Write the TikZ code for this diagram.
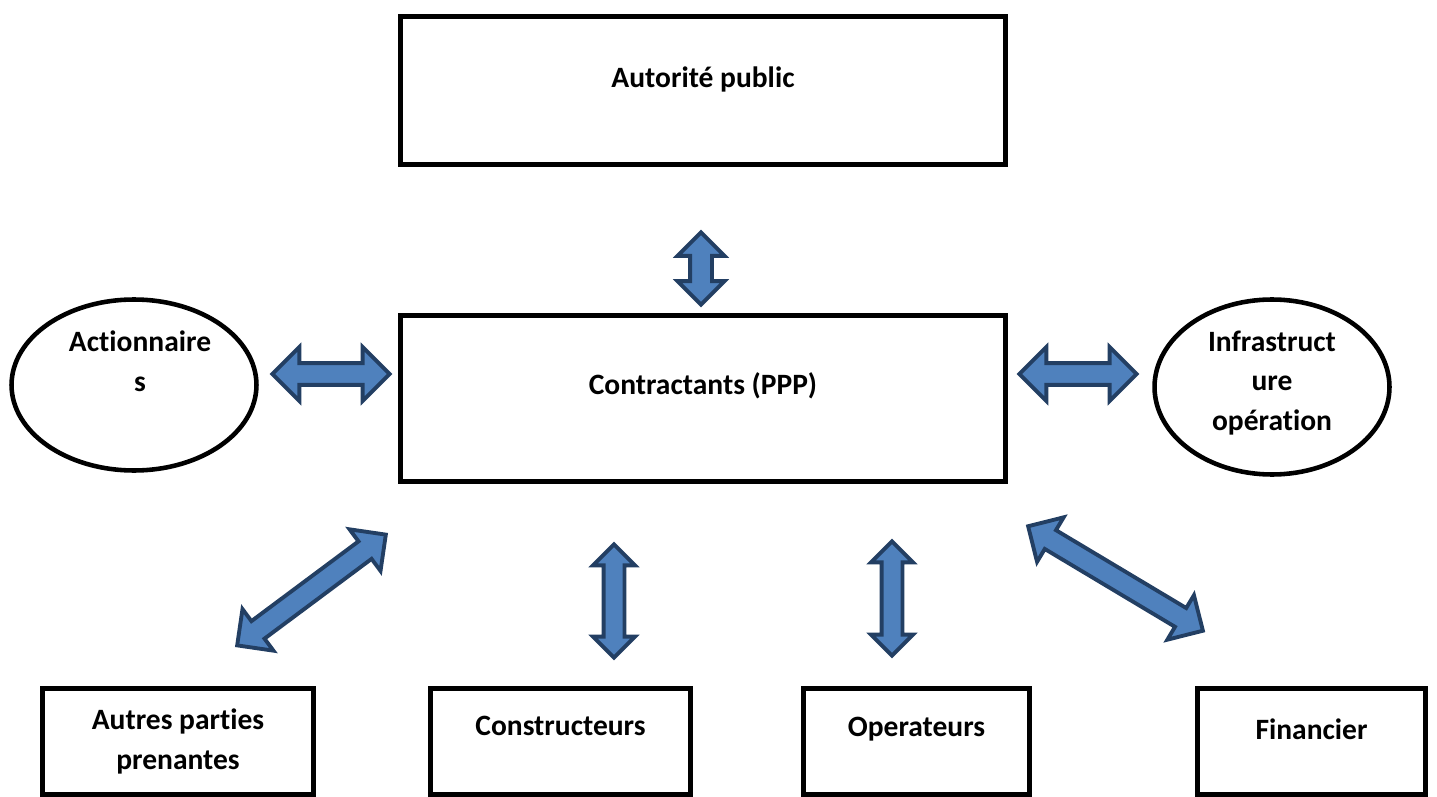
\documentclass[tikz,border=0pt]{standalone}
\usepackage{fontspec}
\setmainfont[Ligatures=NoCommon]{Carlito}
\usetikzlibrary{calc,positioning,shapes.geometric,shapes.arrows}
\definecolor{arrowfill}{HTML}{4F81BD}
\definecolor{arrowline}{HTML}{233F63}
\tikzset{
    box/.style={draw, line width=2.8pt, inner sep=0pt, outer sep=0pt},
    bubble/.style={draw, ellipse, line width=2.6pt, inner sep=0pt, outer sep=0pt},
    txt/.style={font=\fontsize{16.8}{22.7}\selectfont\bfseries, align=center, inner sep=0pt},
    dblarrow/.style={double arrow, draw=arrowline, fill=arrowfill, line width=2.2pt,
        inner xsep=0pt, text height=0pt, text depth=0pt, outer sep=0pt, minimum width=0pt},
    arrowsize/.style 2 args={inner ysep=#1, double arrow head extend=#2},
}
% block double arrow between two named points
\newcommand{\dblink}[3][]{%
    \path let \p1=($(#3)-(#2)$), \n1={atan2(\y1,\x1)}, \n2={veclen(\x1,\y1)} in
        node[dblarrow, #1, rotate=\n1, minimum height={\n2-2.8pt}] at ($(#2)!0.5!(#3)$) {};}

\begin{document}
\begin{tikzpicture}[x=0.02cm, y=-0.02cm]
        \useasboundingbox (0,0) rectangle (1437,797);
        % main boxes
        \node[box, minimum width=12.1cm, minimum height=2.96cm,
            label={[txt, yshift=0.23cm]center:Autorité public}] (pub) at (703,90.5) {};
        \node[box, minimum width=12.1cm, minimum height=3.32cm,
            label={[txt, yshift=0.25cm]center:Contractants (PPP)}] (ppp) at (703,398.5) {};
        % side ellipses
        \node[bubble, minimum width=4.9cm, minimum height=3.42cm,
            label={[txt, xshift=0.12cm, yshift=0.48cm]center:Actionnaire\\s}] (act) at (134,385) {};
        \node[bubble, minimum width=4.7cm, minimum height=3.5cm,
            label={[txt, yshift=0.08cm]center:Infrastruct\\ure\\opération}] (infra) at (1272,387) {};
        % bottom boxes
        \node[box, minimum width=5.42cm, minimum height=2.12cm,
            label={[txt]center:Autres parties\\prenantes}] (aut) at (178,741.5) {};
        \node[box, minimum width=5.2cm, minimum height=2.12cm,
            label={[txt, yshift=0.31cm]center:Constructeurs}] (con) at (560.5,741.5) {};
        \node[box, minimum width=4.52cm, minimum height=2.12cm,
            label={[txt, yshift=0.25cm]center:Operateurs}] (ope) at (916.5,741.5) {};
        \node[box, minimum width=4.56cm, minimum height=2.12cm,
            label={[txt, yshift=0.25cm]center:Financier}] (fin) at (1311.5,741.5) {};

        % arrow tips
        \coordinate (pubA) at (701,230);   \coordinate (pubB) at (701,307);
        \coordinate (actA) at (270,374);   \coordinate (actB) at (392,374);
        \coordinate (infA) at (1017,374);  \coordinate (infB) at (1139,374);
        \coordinate (autA) at (235,647);   \coordinate (autB) at (388,533);
        \coordinate (conA) at (614,542);   \coordinate (conB) at (614,660);
        \coordinate (opeA) at (892,539);   \coordinate (opeB) at (892,658);
        \coordinate (finA) at (1026,525);  \coordinate (finB) at (1205,632);

        % block arrows
        \dblink[arrowsize={0.18cm}{0.25cm}]{pubA}{pubB}
        \foreach \a in {act,inf} {
            \dblink[arrowsize={0.18cm}{0.32cm}]{\a A}{\a B}
        }
        \foreach \a in {con,ope} {
            \dblink[arrowsize={0.17cm}{0.21cm}]{\a A}{\a B}
        }
        \foreach \a in {aut,fin} {
            \dblink[arrowsize={0.18cm}{0.3cm}]{\a A}{\a B}
        }
    \end{tikzpicture}
\end{document}
